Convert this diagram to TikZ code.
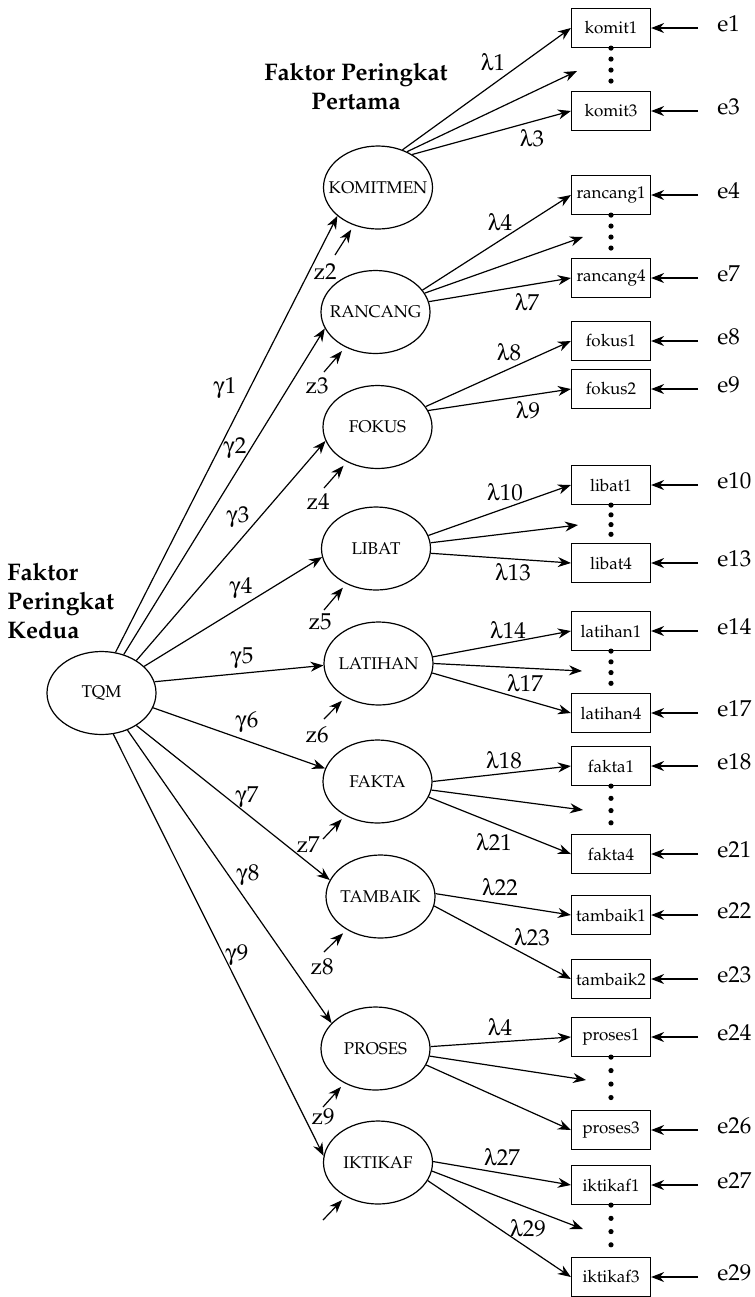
\documentclass[tikz,border=0pt]{standalone}
\usepackage[T1]{fontenc}
\usepackage{mathpazo}
\usepackage[Symbol]{upgreek}
\usepackage{tikz}
\usetikzlibrary{arrows.meta,shapes.geometric}

\begin{document}
\begin{tikzpicture}[x=0.5pt, y=-0.5pt,
  latent/.style={draw, ellipse, line width=0.6pt, minimum width=54.5pt, minimum height=41.5pt, inner sep=0pt, font=\fontsize{8.5}{10}\selectfont},
  obs/.style={draw, rectangle, line width=0.6pt, minimum width=39.5pt, minimum height=19.5pt, inner sep=1pt, font=\fontsize{8.5}{10}\selectfont},
  lbl/.style={inner sep=0pt, font=\fontsize{11.5}{13}\selectfont},
  elbl/.style={anchor=west, inner xsep=9.5pt, inner ysep=0pt, font=\fontsize{11.5}{13}\selectfont},
  heading/.style={inner sep=0pt, font=\fontsize{12}{14.5}\selectfont\bfseries},
  arr/.style={-{Stealth[length=6.5pt, width=5pt]}, line width=0.6pt},
  vdots/.style={line width=2.6pt, line cap=round, dash pattern=on 0pt off #1}]

\useasboundingbox (0,0) rectangle (755,1297);

% headings
\node[heading, align=center, anchor=north] (first) at (356,63) {Faktor Peringkat\\Pertama};
\node[heading, align=left, anchor=north west] (second) at (7,563) {Faktor\\Peringkat\\Kedua};

% latent factors
\node[latent] (tqm) at (101.5,693) {\makebox[0pt]{TQM}};
\node[latent] (komitmen) at (378,187.5) {\makebox[0pt]{KOMITMEN}};
\node[latent] (rancang) at (375.5,312) {\makebox[0pt]{RANCANG}};
\node[latent] (fokus) at (377.5,427) {\makebox[0pt]{FOKUS}};
\node[latent] (libat) at (376,548.5) {\makebox[0pt]{LIBAT}};
\node[latent] (latihan) at (378.5,663.5) {\makebox[0pt]{LATIHAN}};
\node[latent] (fakta) at (377.5,781.5) {\makebox[0pt]{FAKTA}};
\node[latent] (tambaik) at (380.5,896.5) {\makebox[0pt]{TAMBAIK}};
\node[latent] (proses) at (375.5,1048.5) {\makebox[0pt]{PROSES}};
\node[latent] (iktikaf) at (378,1162.5) {\makebox[0pt]{IKTIKAF}};

% indicators
\node[obs] (komit1) at (611,28) {komit1};
\node[obs] (komit3) at (611,111) {komit3};
\node[obs] (rancang1) at (611,195) {rancang1};
\node[obs] (rancang4) at (611,278) {rancang4};
\node[obs] (fokus1) at (611,341) {fokus1};
\node[obs] (fokus2) at (611,389) {fokus2};
\node[obs] (libat1) at (611,485) {libat1};
\node[obs] (libat4) at (611,563) {libat4};
\node[obs] (latihan1) at (611,631) {latihan1};
\node[obs] (latihan4) at (611,713) {latihan4};
\node[obs] (fakta1) at (611,766) {fakta1};
\node[obs] (fakta4) at (611,854) {fakta4};
\node[obs] (tambaik1) at (611,915) {tambaik1};
\node[obs] (tambaik2) at (611,979) {tambaik2};
\node[obs] (proses1) at (611,1037) {proses1};
\node[obs] (proses3) at (611,1130) {proses3};
\node[obs] (iktikaf1) at (611,1185) {iktikaf1};
\node[obs] (iktikaf3) at (611,1277) {iktikaf3};

% hidden indicators
\coordinate (mkomit) at (577,71);
\coordinate (mrancang) at (583,237);
\coordinate (mlibat) at (578,525);
\coordinate (mlatihan) at (582,671);
\coordinate (mfakta) at (583,810);
\coordinate (mproses) at (586,1080);
\coordinate (miktikaf) at (583,1229);

\draw[vdots=5.49pt] (komit1.south) -- (komit3.north);
\draw[vdots=5.49pt] (rancang1.south) -- (rancang4.north);
\draw[vdots=4.87pt] (libat1.south) -- (libat4.north);
\draw[vdots=5.37pt] (latihan1.south) -- (latihan4.north);
\draw[vdots=6.12pt] (fakta1.south) -- (fakta4.north);
\draw[vdots=6.74pt] (proses1.south) -- (proses3.north);
\draw[vdots=6.62pt] (iktikaf1.south) -- (iktikaf3.north);

% second order loadings
\draw[arr] (tqm.71) -- (komitmen.-145);
\draw[arr] (tqm.60) -- (rancang.-162);
\draw[arr] (tqm.43) -- (fokus.-165);
\draw[arr] (tqm.32) -- (libat.-171);
\draw[arr] (tqm.12) -- (latihan.-178);
\draw[arr] (tqm.-16) -- (fakta.166);
\draw[arr] (tqm.-43) -- (tambaik.162);
\draw[arr] (tqm.-55) -- (proses.150);
\draw[arr] (tqm.-74) -- (iktikaf.173);

\node[lbl] (g1) at (225,388) {$\upgamma$1};
\node[lbl] (g2) at (235,448) {$\upgamma$2};
\node[lbl] (g3) at (238,517) {$\upgamma$3};
\node[lbl] (g4) at (241,588) {$\upgamma$4};
\node[lbl] (g5) at (242,658) {$\upgamma$5};
\node[lbl] (g6) at (247,722) {$\upgamma$6};
\node[lbl] (g7) at (247,797) {$\upgamma$7};
\node[lbl] (g8) at (248,875) {$\upgamma$8};
\node[lbl] (g9) at (237,955) {$\upgamma$9};

% first order loadings
\draw[arr] (komitmen.57) -- (komit1.west);
\draw[arr] (komitmen.51) -- (mkomit);
\draw[arr] (komitmen.44) -- (komit3.west);
\draw[arr] (rancang.25) -- (rancang1.west);
\draw[arr] (rancang.21) -- (mrancang);
\draw[arr] (rancang.11) -- (rancang4.west);
\draw[arr] (fokus.23) -- (fokus1.west);
\draw[arr] (fokus.18) -- (fokus2.west);
\draw[arr] (libat.14) -- (libat1.west);
\draw[arr] (libat.6) -- (mlibat);
\draw[arr] (libat.-5) -- (libat4.west);
\draw[arr] (latihan.7) -- (latihan1.west);
\draw[arr] (latihan.0) -- (mlatihan);
\draw[arr] (latihan.-10) -- (latihan4.west);
\draw[arr] (fakta.0) -- (fakta1.west);
\draw[arr] (fakta.-9) -- (mfakta);
\draw[arr] (fakta.-17) -- (fakta4.west);
\draw[arr] (tambaik.3) -- (tambaik1.west);
\draw[arr] (tambaik.-10) -- (tambaik2.west);
\draw[arr] (proses.2) -- (proses1.west);
\draw[arr] (proses.-8) -- (mproses);
\draw[arr] (proses.-18) -- (proses3.west);
\draw[arr] (iktikaf.1) -- (iktikaf1.west);
\draw[arr] (iktikaf.-9) -- (miktikaf);
\draw[arr] (iktikaf.-20) -- (iktikaf3.west);

\node[lbl] (l1) at (493,62) {$\uplambda$1};
\node[lbl] (l3) at (532,138) {$\uplambda$3};
\node[lbl] (l4) at (500,222) {$\uplambda$4};
\node[lbl] (l7) at (527,302) {$\uplambda$7};
\node[lbl] (l8) at (509,352) {$\uplambda$8};
\node[lbl] (l9) at (528,410) {$\uplambda$9};
\node[lbl] (l10) at (505,492) {$\uplambda$10};
\node[lbl] (l13) at (513,572) {$\uplambda$13};
\node[lbl] (l14) at (508,630) {$\uplambda$14};
\node[lbl] (l17) at (525,683) {$\uplambda$17};
\node[lbl] (l18) at (504,760) {$\uplambda$18};
\node[lbl] (l21) at (494,842) {$\uplambda$21};
\node[lbl] (l22) at (500,887) {$\uplambda$22};
\node[lbl] (l23) at (532,937) {$\uplambda$23};
\node[lbl] (l24) at (500,1027) {$\uplambda$4};
\node[lbl] (l27) at (502,1157) {$\uplambda$27};
\node[lbl] (l29) at (528,1228) {$\uplambda$29};

% disturbances
\coordinate (zt2) at (335,255);
\coordinate (zt3) at (324,372);
\coordinate (zt4) at (324,488);
\coordinate (zt5) at (324,610);
\coordinate (zt6) at (324,719);
\coordinate (zt7) at (323,839);
\coordinate (zt8) at (324,952);
\coordinate (zt9) at (323,1107);
\coordinate (zt10) at (323,1220);

\draw[arr, shorten >=2.5pt] (zt2) -- (komitmen);
\draw[arr, shorten >=2.5pt] (zt3) -- (rancang);
\draw[arr, shorten >=2.5pt] (zt4) -- (fokus);
\draw[arr, shorten >=2.5pt] (zt5) -- (libat);
\draw[arr, shorten >=2.5pt] (zt6) -- (latihan);
\draw[arr, shorten >=2.5pt] (zt7) -- (fakta);
\draw[arr, shorten >=2.5pt] (zt8) -- (tambaik);
\draw[arr, shorten >=2.5pt] (zt9) -- (proses);
\draw[arr, shorten >=2.5pt] (zt10) -- (iktikaf);

\node[lbl] (z2) at (325,272) {z2};
\node[lbl] (z3) at (317,386) {z3};
\node[lbl] (z4) at (318,502) {z4};
\node[lbl] (z5) at (320,622) {z5};
\node[lbl] (z6) at (317,735) {z6};
\node[lbl] (z7) at (308,845) {z7};
\node[lbl] (z8) at (322,967) {z8};
\node[lbl] (z9) at (323,1117) {z9};

% errors
\node[elbl] (e1) at (698,24) {e1};
\node[elbl] (e3) at (698,107) {e3};
\node[elbl] (e4) at (698,191) {e4};
\node[elbl] (e7) at (698,274) {e7};
\node[elbl] (e8) at (698,337) {e8};
\node[elbl] (e9) at (698,385) {e9};
\node[elbl] (e10) at (698,481) {e10};
\node[elbl] (e13) at (698,559) {e13};
\node[elbl] (e14) at (698,627) {e14};
\node[elbl] (e17) at (698,709) {e17};
\node[elbl] (e18) at (698,762) {e18};
\node[elbl] (e21) at (698,850) {e21};
\node[elbl] (e22) at (698,911) {e22};
\node[elbl] (e23) at (698,975) {e23};
\node[elbl] (e24) at (698,1033) {e24};
\node[elbl] (e26) at (698,1126) {e26};
\node[elbl] (e27) at (698,1181) {e27};
\node[elbl] (e29) at (698,1273) {e29};

\draw[arr] (e1.west |- komit1) -- (komit1);
\draw[arr] (e3.west |- komit3) -- (komit3);
\draw[arr] (e4.west |- rancang1) -- (rancang1);
\draw[arr] (e7.west |- rancang4) -- (rancang4);
\draw[arr] (e8.west |- fokus1) -- (fokus1);
\draw[arr] (e9.west |- fokus2) -- (fokus2);
\draw[arr] (e10.west |- libat1) -- (libat1);
\draw[arr] (e13.west |- libat4) -- (libat4);
\draw[arr] (e14.west |- latihan1) -- (latihan1);
\draw[arr] (e17.west |- latihan4) -- (latihan4);
\draw[arr] (e18.west |- fakta1) -- (fakta1);
\draw[arr] (e21.west |- fakta4) -- (fakta4);
\draw[arr] (e22.west |- tambaik1) -- (tambaik1);
\draw[arr] (e23.west |- tambaik2) -- (tambaik2);
\draw[arr] (e24.west |- proses1) -- (proses1);
\draw[arr] (e26.west |- proses3) -- (proses3);
\draw[arr] (e27.west |- iktikaf1) -- (iktikaf1);
\draw[arr] (e29.west |- iktikaf3) -- (iktikaf3);

\end{tikzpicture}
\end{document}
